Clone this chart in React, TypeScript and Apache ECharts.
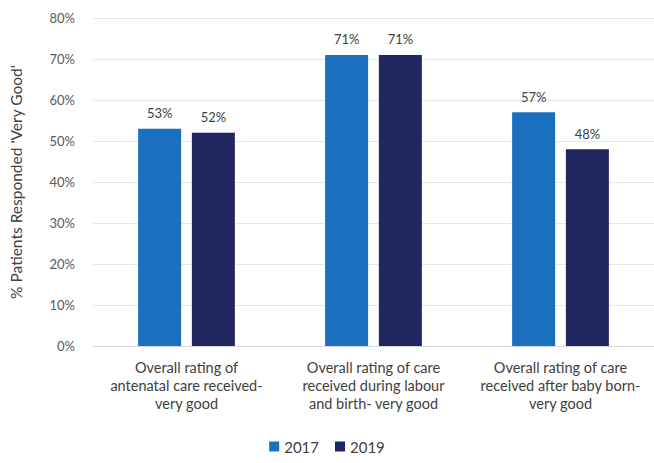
import React, { useEffect, useRef } from "react";
import * as echarts from "echarts";

const categories = [
  "Overall rating of\nantenatal care received-\nvery good",
  "Overall rating of care\nreceived during labour\nand birth- very good",
  "Overall rating of care\nreceived after baby born-\nvery good",
];
const series2017 = [53, 71, 57];
const series2019 = [52, 71, 48];
const seriesNames = ["2017", "2019"];

export default function App() {
  const ref = useRef<HTMLDivElement>(null);
  useEffect(() => {
    if (!ref.current) return;
    const chart = echarts.init(ref.current, null, { renderer: "svg" });
    const font = "Lato";
    const labelStyle = {
      show: true,
      position: "top",
      formatter: "{c}%",
      fontSize: 13,
      color: "#404040",
      distance: 9,
      fontFamily: font,
    };
    chart.setOption({
      animation: false,
      textStyle: { fontFamily: font },
      grid: { left: 86, right: 0, top: 18, bottom: 117, containLabel: false },
      legend: {
        data: seriesNames,
        bottom: 4,
        left: "center",
        itemWidth: 10,
        itemHeight: 10,
        itemGap: 16,
        icon: "rect",
        textStyle: { fontFamily: font, fontSize: 15, color: "#404040" },
      },
      xAxis: {
        type: "category",
        data: categories,
        axisTick: { show: false },
        axisLine: { lineStyle: { color: "#d9d9d9" } },
        axisLabel: {
          interval: 0,
          margin: 12,
          lineHeight: 18,
          fontSize: 14.5,
          color: "#404040",
          fontFamily: font,
        },
      },
      yAxis: {
        type: "value",
        min: 0,
        max: 80,
        interval: 10,
        name: "% Patients Responded 'Very Good'",
        nameLocation: "middle",
        nameGap: 69,
        nameTextStyle: { fontSize: 15.5, color: "#404040", fontFamily: font },
        axisLabel: {
          formatter: "{value}%",
          fontSize: 13,
          color: "#595959",
          margin: 18,
          fontFamily: font,
        },
        splitLine: { lineStyle: { color: "#e6e6e6" } },
        axisLine: { show: false },
        axisTick: { show: false },
      },
      series: [
        {
          name: seriesNames[0],
          type: "bar",
          data: series2017,
          barWidth: 43,
          barGap: "25%",
          itemStyle: { color: "#1b6fbf" },
          label: labelStyle,
        },
        {
          name: seriesNames[1],
          type: "bar",
          data: series2019,
          barWidth: 43,
          barGap: "25%",
          itemStyle: { color: "#1f2660" },
          label: labelStyle,
        },
      ],
    });
    return () => chart.dispose();
  }, []);
  return (
    <div
      ref={ref}
      style={{ position: "absolute", left: 0, top: 0, width: 654, height: 463, background: "#fff" }}
    />
  );
}
